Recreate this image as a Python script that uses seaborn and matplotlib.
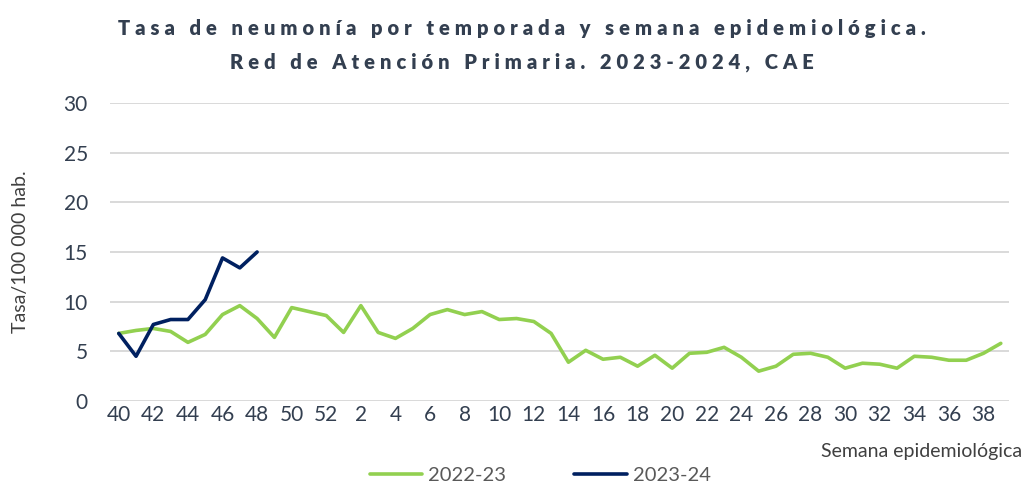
import pandas as pd
import matplotlib.pyplot as plt
import seaborn as sns

# =========================
# Datos
# =========================

semanas = list(range(40, 53)) + list(range(1, 40))

tasa_2022_23 = [6.8, 7.1, 7.3, 7.0, 5.9, 6.7, 8.7, 9.6, 8.3, 6.4, 9.4, 9.0, 8.6,
                6.9, 9.6, 6.9, 6.3, 7.3, 8.7, 9.2, 8.7, 9.0, 8.2, 8.3, 8.0,
                6.8, 3.9, 5.1, 4.2, 4.4, 3.5, 4.6, 3.3, 4.8, 4.9, 5.4, 4.4,
                3.0, 3.5, 4.7, 4.8, 4.4, 3.3, 3.8, 3.7, 3.3, 4.5, 4.4, 4.1,
                4.1, 4.8, 5.8]

tasa_2023_24 = [6.8, 4.5, 7.7, 8.2, 8.2, 10.2, 14.4, 13.4, 15.0]

temporadas = ["2022-23", "2023-24"]
colores = ["#92D050", "#002060"]

y_ticks = [0, 5, 10, 15, 20, 25, 30]

titulo_1 = "Tasa de neumonía por temporada y semana epidemiológica."
titulo_2 = "Red de Atención Primaria. 2023-2024, CAE"

# =========================
# Formato largo
# =========================

df = pd.concat([
    pd.DataFrame({"pos": range(len(tasa_2022_23)), "tasa": tasa_2022_23, "temporada": temporadas[0]}),
    pd.DataFrame({"pos": range(len(tasa_2023_24)), "tasa": tasa_2023_24, "temporada": temporadas[1]}),
])


def espaciado(texto):
    # el título original tiene espaciado entre letras
    return "\u2009\u2009".join(texto)


# =========================
# Gráfico
# =========================

sns.set_style("white")
plt.rcParams["font.family"] = ["Lato", "DejaVu Sans"]

fig = plt.figure(figsize=(10.29, 4.86), dpi=100)
ax = fig.add_axes([0.107, 0.175, 0.874, 0.613])

for y in y_ticks:
    ax.axhline(y, color="#D9D9D9", lw=1.4, zorder=0)

sns.lineplot(data=df, x="pos", y="tasa", hue="temporada", hue_order=temporadas,
             palette=colores, linewidth=2.6, ax=ax, legend=False)

ax.set_xlim(-0.5, len(semanas) - 0.5)
ax.set_ylim(0, 30)
ax.set_yticks(y_ticks)
ax.set_xticks(range(0, len(semanas), 2))
ax.set_xticklabels([str(s) for s in semanas[::2]])
ax.tick_params(axis="both", length=0, labelsize=15, labelcolor="#333F50", pad=3)
ax.tick_params(axis="y", pad=16)
for s in ax.spines.values():
    s.set_visible(False)

ax.set_xlabel("")
ax.set_ylabel("Tasa/100 000 hab.", fontsize=14, color="#404040")
ax.yaxis.set_label_coords(-0.09, 0.5)
fig.text(0.993, 0.072, "Semana epidemiológica", ha="right", va="center",
         fontsize=14, color="#404040")

fig.text(0.507, 0.942, espaciado(titulo_1),
         ha="center", va="center", fontsize=14.5, fontweight="heavy", color="#333F50")
fig.text(0.507, 0.871, espaciado(titulo_2),
         ha="center", va="center", fontsize=14.5, fontweight="heavy", color="#333F50")

handles = [plt.Line2D([], [], color=c, lw=2.6) for c in colores]
leg = fig.legend(handles, temporadas, loc="center", bbox_to_anchor=(0.525, 0.022),
                 ncol=2, frameon=False, fontsize=14.5, handlelength=2.6,
                 columnspacing=3.4, handletextpad=0.3)
for t in leg.get_texts():
    t.set_color("#595959")

plt.savefig("out.png", dpi=100)
